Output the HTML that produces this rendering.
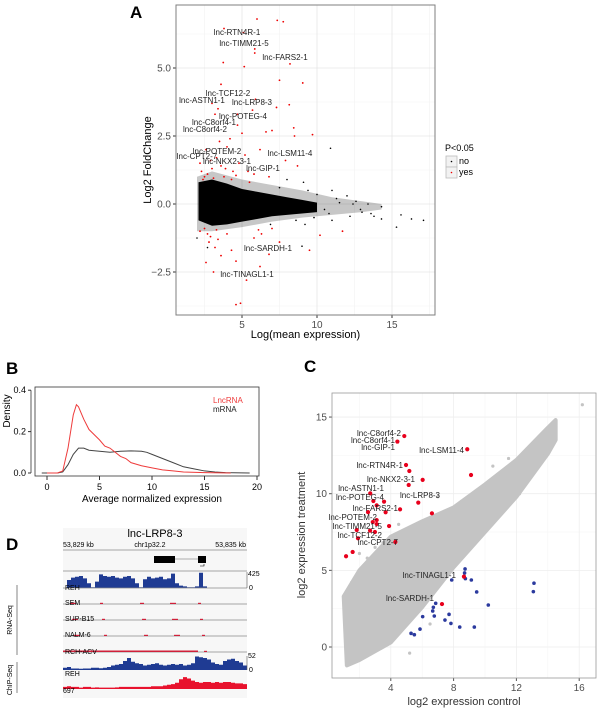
<!DOCTYPE html>
<html><head><meta charset="utf-8"><style>
html,body{margin:0;padding:0;background:#fff}
svg{display:block;font-family:"Liberation Sans",sans-serif}
</style></head><body>
<svg id="fig" width="600" height="716" viewBox="0 0 600 716" xmlns="http://www.w3.org/2000/svg">
<text x="130" y="18" font-size="17" font-weight="bold">A</text>
<text x="6" y="374" font-size="17" font-weight="bold">B</text>
<text x="304" y="372" font-size="17" font-weight="bold">C</text>
<text x="6" y="550" font-size="17" font-weight="bold">D</text>
<g id="A"></g><g id="B"></g><g id="C"></g><g id="D"></g>
</svg>
<script>
// ===== Panel A data =====
const aRedX=[6.0,7.35,7.75,3.8,5.1,5.85,5.85,3.75,5.15,8.2,3.6,7.5,9.05,5.9,8.15,7.3,3.0,3.4,4.7,5.7,3.2,4.7,8.45,8.5,9.7,7.0,6.6,5.0,4.2,3.5,2.6,6.2,7.9,8.7,5.4,4.8,3.0,2.7,3.8,6.8,2.4,4.3,5.5,2.2,3.3,5.2,4.0,9.5,10.2,11.7,6.8,4.3,3.2,2.8,2.6,4.6,6.2,3.1,5.3,4.6,4.9,2.9,5.8,7.5,3.6,2.5,4.0,6.3,7.0,3.3,2.3,2.9,3.6,4.4,2.5,3.1,3.9,4.6,5.8,6.1,2.2,2.7,3.4];
const aRedY=[6.8,6.75,6.7,6.45,6.3,5.7,5.55,5.2,5.05,5.15,4.4,4.55,4.45,3.85,3.65,3.55,3.7,3.5,3.3,3.45,3.3,2.9,2.8,2.5,2.55,2.7,2.65,2.6,2.4,2.3,2.0,2.0,1.6,1.4,1.2,1.5,1.3,1.1,1.0,1.0,0.9,0.9,0.8,1.5,1.7,1.8,2.1,-1.7,-1.15,-1.0,-1.85,-1.7,-1.6,-1.4,-2.15,-2.1,-2.3,-2.5,-2.8,-3.7,-3.65,-1.2,-1.25,-1.4,-1.9,-0.9,-1.1,-1.1,-0.9,-0.95,1.2,1.6,1.4,1.2,1.0,0.95,1.3,1.05,1.1,-0.95,-1.0,-1.1,-1.3];
const aBlkX=[10.9,8.0,9.1,9.4,11.0,12.6,13.4,14.3,15.6,16.3,17.1,15.3,14.3,13.0,12.2,11.0,9.0,2.0,2.7,9.2,12.0,10.5,13.8,11.5,10.0,11.3,12.9,7.5,8.6,9.8,6.9,10.8,12.4,13.6];
const aBlkY=[2.05,0.9,0.8,0.5,0.5,0.1,0.0,-0.1,-0.4,-0.55,-0.6,-0.85,-0.55,-0.3,-0.45,-0.6,-1.55,-1.25,-1.6,-0.75,0.3,-0.2,-0.45,0.05,0.35,0.2,-0.2,0.6,-0.6,-0.5,-0.75,-0.35,0.0,-0.35];
const aCoreX=[2.1,3,4,5,6,7,8,9,10];
const aCoreUp=[0.8,0.9,0.75,0.55,0.45,0.35,0.25,0.15,0.05];
const aCoreLo=[-0.6,-0.8,-0.75,-0.65,-0.55,-0.45,-0.4,-0.35,-0.3];
const aFringeX=[2,3,5,7,9,11,13,14.3];
const aFringeUp=[1.0,1.2,0.9,0.7,0.5,0.25,0.1,0];
const aFringeLo=[-1.0,-1.0,-0.85,-0.65,-0.5,-0.4,-0.3,-0.2];
const aXTicks=[5,10,15];
const aYTicks=[-2.5,0,2.5,5];
const aYTickLabels=["\u22122.5","0.0","2.5","5.0"];
// ===== Panel B data =====
const bLncX=[0,1,1.5,2,2.5,2.8,3,3.5,4,5,5.5,6,7,7.5,8,9,10,11,12,13,15,17.5];
const bLncY=[0,0,0.01,0.12,0.28,0.33,0.32,0.26,0.21,0.16,0.13,0.12,0.08,0.07,0.05,0.035,0.025,0.015,0.01,0.005,0.002,0];
const bMrnaX=[-0.5,1,1.5,2,2.5,3,3.5,4,5,6,7,8,9,9.5,10,11,12,13,14,15,16,17,19.3];
const bMrnaY=[0,0,0.005,0.04,0.09,0.12,0.12,0.11,0.105,0.1,0.105,0.107,0.105,0.1,0.09,0.07,0.05,0.03,0.02,0.01,0.005,0.002,0];
const bXTicks=[0,5,10,15,20];
const bYTicks=[0,0.2,0.4];
const bYTickLabels=["0.0","0.2","0.4"];
// ===== Panel C data =====
const cBandX=[1,2,4,6,8,10,12,14,14.5,14.5,14,12,10,8,6,4,2,1.2];
const cBandY=[3.3,5.0,7.2,8.2,9.1,10.6,12.2,14.3,14.8,13.5,12.6,9.8,7.5,5.2,2.6,0.3,-0.85,-1.2];
const cGreyX=[16.2,14.5,14.5,14.2,13.8,12.2,10.8,9.5,12.0,5.2,6.5,2.0,3.5,8.5,13.0,11.5,4.5,3.0,7.0,10.5,1.5,2.5];
const cGreyY=[15.8,14.8,14.2,13.1,12.5,10.0,10.4,8.2,11.5,-0.4,1.5,6.1,6.8,9.5,13.2,12.3,8.0,6.5,9.8,11.8,4.2,5.8];
const cRedX=[4.86,4.42,8.87,4.97,5.18,6.03,9.11,5.14,2.69,5.75,4.59,3.57,2.89,3.1,3.67,2.55,6.62,3.1,2.85,3.1,3.89,2.68,2.99,1.83,1.91,4.29,1.57,1.15,8.66,7.26];
const cRedY=[13.76,13.4,12.9,11.87,11.48,10.9,11.22,10.57,10.02,9.42,8.98,9.48,9.52,9.24,8.79,8.8,8.72,8.28,8.15,8.02,7.89,7.59,7.5,7.63,7.09,6.85,6.2,5.92,4.59,2.8];
const cBlueX=[8.73,8.7,7.88,8.75,9.13,9.47,13.12,13.08,10.21,6.86,6.71,6.67,6.77,6.03,7.71,7.45,7.83,8.39,9.32,5.86,5.29,5.5];
const cBlueY=[5.09,4.83,4.37,4.46,4.37,3.59,4.16,3.61,2.74,2.85,2.59,2.35,2.02,1.98,2.13,1.76,1.54,1.3,1.3,1.17,0.89,0.8];
const cXTicks=[4,8,12,16];
const cYTicks=[0,5,10,15];
// ===== Panel D data =====
const dRnaReh=[0,0.5,0.65,0.7,0.75,0.6,0.3,0.05,0.4,0.85,0.75,0.7,0.75,0.65,0.6,0.7,0.75,0.6,0.3,0.05,0.55,0.7,0.6,0.65,0.7,0.55,0.6,0.9,0.3,0.15,0.1,0.05,0.05,0.1,0.95,0.1,0,0,0,0,0,0,0,0,0,0];
const dChipReh=[0.15,0.2,0.1,0.1,0.08,0.1,0.1,0.15,0.15,0.12,0.15,0.2,0.3,0.35,0.4,0.6,0.8,0.55,0.45,0.4,0.3,0.35,0.4,0.45,0.35,0.3,0.35,0.4,0.35,0.4,0.3,0.35,0.45,0.9,0.85,0.8,0.7,0.5,0.4,0.35,0.6,0.7,0.75,0.6,0.5,0.3];
const dChip697=[0.15,0.2,0.15,0.15,0.1,0.15,0.15,0.1,0.12,0.1,0.1,0.1,0.1,0.12,0.15,0.15,0.15,0.15,0.15,0.15,0.15,0.15,0.2,0.2,0.2,0.25,0.3,0.35,0.45,0.7,0.85,0.75,0.6,0.5,0.45,0.5,0.5,0.45,0.5,0.45,0.5,0.5,0.45,0.4,0.4,0.35];

const NS="http://www.w3.org/2000/svg";
function el(tag,parent,attrs){const e=document.createElementNS(NS,tag);for(const k in attrs)e.setAttribute(k,attrs[k]);parent.appendChild(e);return e;}
function txt(parent,x,y,s,size,fill,anchor,name){const t=el('text',parent,{x:x,y:y,'font-size':size,fill:fill,'text-anchor':anchor||'start'});t.textContent=s;


return t;}

// ===== Panel A =====
(function(){
const g=document.getElementById('A');
const L=176,R=435,T=5,B=315;
const ax=x=>242+(x-5)*15, ay=y=>204-y*27.2;
const bg=el('rect',g,{x:L,y:T,width:R-L,height:B-T,fill:'#fff'});


[2.5,7.5,12.5,17.5].forEach(v=>{const l=el('line',g,{x1:ax(v),x2:ax(v),y1:T,y2:B,stroke:'#f2f2f2','stroke-width':0.6});

});
[-3.75,-1.25,1.25,3.75,6.25].forEach(v=>{const l=el('line',g,{x1:L,x2:R,y1:ay(v),y2:ay(v),stroke:'#f2f2f2','stroke-width':0.6});

});
aXTicks.forEach(v=>{const l=el('line',g,{x1:ax(v),x2:ax(v),y1:T,y2:B,stroke:'#e6e6e6','stroke-width':0.8});


el('line',g,{x1:ax(v),x2:ax(v),y1:B,y2:B+3,stroke:'#333'});
txt(g,ax(v),B+13,String(v),10,'#4d4d4d','middle','a-x-tick-label');});
aYTicks.forEach((v,i)=>{const l=el('line',g,{x1:L,x2:R,y1:ay(v),y2:ay(v),stroke:'#e6e6e6','stroke-width':0.8});


el('line',g,{x1:L-3,x2:L,y1:ay(v),y2:ay(v),stroke:'#333'});
txt(g,L-5,ay(v)+3.5,aYTickLabels[i],10,'#4d4d4d','end','a-y-tick-label');});
let fp=aFringeX.map((x,i)=>ax(x)+','+ay(aFringeUp[i])).concat(aFringeX.map((x,i)=>i).reverse().map(i=>ax(aFringeX[i])+','+ay(aFringeLo[i])));
const fr=el('polygon',g,{points:fp.join(' '),fill:'#000',opacity:0.22});


let cp=aCoreX.map((x,i)=>ax(x)+','+ay(aCoreUp[i])).concat(aCoreX.map((x,i)=>i).reverse().map(i=>ax(aCoreX[i])+','+ay(aCoreLo[i])));
const co=el('polygon',g,{points:cp.join(' '),fill:'#000'});


aBlkX.forEach((x,i)=>{const c=el('circle',g,{cx:ax(x),cy:ay(aBlkY[i]),r:0.8,fill:'#000'});

});
aRedX.forEach((x,i)=>{const c=el('circle',g,{cx:ax(x),cy:ay(aRedY[i]),r:0.9,fill:'#e00'});

});
const labs=[["lnc-RTN4R-1",237,35],["lnc-TIMM21-5",244,46],["lnc-FARS2-1",285,60],["lnc-TCF12-2",228,96],["lnc-ASTN1-1",202,103],["lnc-LRP8-3",252,105],["lnc-POTEG-4",243,119],["lnc-C8orf4-1",214,125],["lnc-C8orf4-2",205,132],["lnc-POTEM-2",217,154],["lnc-CPT2-7",197,159],["lnc-NKX2-3-1",227,164],["lnc-GIP-1",263,171],["lnc-LSM11-4",290,156],["lnc-SARDH-1",268,251],["lnc-TINAGL1-1",247,277]];
labs.forEach(l=>txt(g,l[1],l[2],l[0],8,'#222','middle','a-gene-label'));
const fr2=el('rect',g,{x:L,y:T,width:R-L,height:B-T,fill:'none',stroke:'#7f7f7f','stroke-width':1});


txt(g,(L+R)/2,338,'Log(mean expression)',11,'#000','middle','a-x-axis-title');
const yt=txt(g,0,0,'Log2 FoldChange',11,'#000','middle','a-y-axis-title');yt.setAttribute('transform','translate(151,160) rotate(-90)');
txt(g,445,151,'P<0.05',9,'#000','start','a-legend-title');
[['no','#000',161],['yes','#e00',172]].forEach(d=>{const r=el('rect',g,{x:446,y:d[2]-5,width:11,height:11,fill:'#f2f2f2',stroke:'#bbb','stroke-width':0.8});


el('circle',g,{cx:451.5,cy:d[2]+0.5,r:0.8,fill:d[1]});
txt(g,459,d[2]+3,d[0],9,'#000','start','a-legend-entry');});
})();

// ===== Panel B =====
(function(){
const g=document.getElementById('B');
const bx=x=>47+x*10.5, by=y=>473-y*207;
const fr=el('rect',g,{x:35,y:387,width:224,height:89,fill:'none',stroke:'#333','stroke-width':0.8});


const yax=el('line',g,{x1:31,x2:31,y1:by(0),y2:by(0.4),stroke:'#333','stroke-width':0.8});


bXTicks.forEach(v=>{el('line',g,{x1:bx(v),x2:bx(v),y1:476,y2:480,stroke:'#333'});
txt(g,bx(v),490,String(v),9,'#000','middle','b-x-tick-label');});
bYTicks.forEach((v,i)=>{el('line',g,{x1:28,x2:31,y1:by(v),y2:by(v),stroke:'#333'});
txt(g,26,by(v)+3,bYTickLabels[i],9,'#000','end','b-y-tick-label');});
const mr=el('path',g,{d:'M'+bMrnaX.map((x,i)=>bx(x)+','+by(bMrnaY[i])).join('L'),fill:'none',stroke:'#444','stroke-width':1});


const ln=el('path',g,{d:'M'+bLncX.map((x,i)=>bx(x)+','+by(bLncY[i])).join('L'),fill:'none',stroke:'#ee3b3b','stroke-width':1});


txt(g,213,403,'LncRNA',8,'#ee3b3b','start','b-legend-lncrna');
txt(g,213,412,'mRNA',8,'#222','start','b-legend-mrna');
txt(g,152,502,'Average normalized expression',10,'#000','middle','b-x-axis-title');
const yt=txt(g,0,0,'Density',10,'#000','middle','b-y-axis-title');yt.setAttribute('transform','translate(10,411) rotate(-90)');
})();

// ===== Panel C =====
(function(){
const g=document.getElementById('C');
const L=332,R=596,T=393,B=678;
const cx=x=>328+x*15.7, cy=y=>647-y*15.33;
[2,6,10,14].forEach(v=>{const l=el('line',g,{x1:cx(v),x2:cx(v),y1:T,y2:B,stroke:'#f6f6f6','stroke-width':0.6});

});
[2.5,7.5,12.5].forEach(v=>{const l=el('line',g,{x1:L,x2:R,y1:cy(v),y2:cy(v),stroke:'#f6f6f6','stroke-width':0.6});

});
cXTicks.forEach(v=>{const l=el('line',g,{x1:cx(v),x2:cx(v),y1:T,y2:B,stroke:'#eeeeee','stroke-width':0.8});


el('line',g,{x1:cx(v),x2:cx(v),y1:B,y2:B+3,stroke:'#555'});
txt(g,cx(v),B+13,String(v),10,'#4d4d4d','middle','c-x-tick-label');});
cYTicks.forEach(v=>{const l=el('line',g,{x1:L,x2:R,y1:cy(v),y2:cy(v),stroke:'#eeeeee','stroke-width':0.8});


el('line',g,{x1:L-3,x2:L,y1:cy(v),y2:cy(v),stroke:'#555'});
txt(g,L-5,cy(v)+3.5,String(v),10,'#4d4d4d','end','c-y-tick-label');});
const band=el('polygon',g,{points:cBandX.map((x,i)=>cx(x)+','+cy(cBandY[i])).join(' '),fill:'#c4c4c4',stroke:'#c4c4c4','stroke-width':4,'stroke-linejoin':'round'});


cGreyX.forEach((x,i)=>{const c=el('circle',g,{cx:cx(x),cy:cy(cGreyY[i]),r:1.6,fill:'#c4c4c4'});

});
cBlueX.forEach((x,i)=>{const c=el('circle',g,{cx:cx(x),cy:cy(cBlueY[i]),r:1.8,fill:'#2b3a9e'});

});
cRedX.forEach((x,i)=>{const c=el('circle',g,{cx:cx(x),cy:cy(cRedY[i]),r:2.1,fill:'#e8001c'});

});
const labs=[["lnc-C8orf4-2",401,436],["lnc-C8orf4-1",395,443],["lnc-GIP-1",395,450],["lnc-LSM11-4",464,453],["lnc-RTN4R-1",403,468],["lnc-NKX2-3-1",415,482],["lnc-ASTN1-1",384,491],["lnc-LRP8-3",440,498],["lnc-POTEG-4",384,500],["lnc-FARS2-1",398,511],["lnc-POTEM-2",377,520],["lnc-TIMM21-5",382,529],["lnc-TCF12-2",382,538],["lnc-CPT2-7",398,545],["lnc-TINAGL1-1",456,578],["lnc-SARDH-1",434,601]];
labs.forEach(l=>txt(g,l[1],l[2],l[0],8,'#222','end','c-gene-label'));
const fr=el('rect',g,{x:L,y:T,width:R-L,height:B-T,fill:'none',stroke:'#999','stroke-width':0.8});


txt(g,464,705,'log2 expression control',11,'#333','middle','c-x-axis-title');
const yt=txt(g,0,0,'log2 expression treatment',11,'#333','middle','c-y-axis-title');yt.setAttribute('transform','translate(305,535) rotate(-90)');
})();

// ===== Panel D =====
(function(){
const g=document.getElementById('D');
const X0=63,X1=247,BW=4;
const bgr=el('rect',g,{x:X0,y:528,width:X1-X0,height:170,fill:'#f7f7f7'});


txt(g,155,537,'lnc-LRP8-3',11,'#000','middle','d-title');
txt(g,63,547,'53,829 kb',7,'#000','start','d-ruler-start');
txt(g,150,547,'chr1p32.2',7,'#000','middle','d-chromosome-band');
txt(g,246,547,'53,835 kb',7,'#000','end','d-ruler-end');
[550,571].forEach(y=>el('line',g,{x1:X0,x2:X1,y1:y,y2:y,stroke:'#888','stroke-width':0.8}));
const gene=el('g',g,{});


el('line',gene,{x1:175,x2:198,y1:559,y2:559,stroke:'#666','stroke-width':0.6});
el('rect',gene,{x:154,y:556,width:21,height:7,fill:'#000'});
el('rect',gene,{x:198,y:556,width:8,height:7,fill:'#000'});
el('path',gene,{d:'M204,564 L204,566 L200,566',fill:'none',stroke:'#000','stroke-width':0.6});
function track(vals,base,h,color,name){
 let d='M'+X0+','+base;
 vals.forEach((v,i)=>{const x=X0+i*BW;d+=' L'+x+','+(base-v*h)+' L'+(x+BW)+','+(base-v*h);});
 d+=' L'+(X0+vals.length*BW)+','+base+' Z';
 const p=el('path',g,{d:d,fill:color});
 
 
}
track(dRnaReh,588,16,'#1f3b93','d-rnaseq-reh-track');
el('line',g,{x1:X0,x2:X1,y1:588,y2:588,stroke:'#888','stroke-width':0.8});
el('line',g,{x1:247,x2:247,y1:572,y2:588,stroke:'#555','stroke-width':0.6});
txt(g,248,576,'425',7,'#000','start','d-reh-scale-max');
txt(g,249,590,'0',7,'#000','start','d-reh-scale-min');
[604,620,636,652].forEach((y,k)=>{el('line',g,{x1:X0,x2:X1,y1:y,y2:y,stroke:'#888','stroke-width':0.8});
 [[70,6],[100,3],[140,4],[170,6],[198,3]].forEach(s=>{const r=el('rect',g,{x:s[0]+k*2,y:y-1.2,width:s[1],height:1.2,fill:'#d0203a'});
 
 });});
el('rect',g,{x:X0,y:650.5,width:135,height:1.5,fill:'#d0203a'});
[['REH',590],['SEM',605],['SUP-B15',621],['NALM-6',637],['RCH-ACV',654]].forEach(l=>txt(g,65,l[1],l[0],7,'#000','start','d-rnaseq-sample-label'));
track(dChipReh,670,15,'#1f3b93','d-chipseq-reh-track');
el('line',g,{x1:247,x2:247,y1:656,y2:670,stroke:'#555','stroke-width':0.6});
txt(g,248,658,'52',7,'#000','start','d-chip-scale-max');
txt(g,249,672,'0',7,'#000','start','d-chip-scale-min');
track(dChip697,689,14,'#e8122d','d-chipseq-697-track');
txt(g,65,676,'REH',7,'#000','start','d-chipseq-sample-label');
txt(g,63,693,'697',7,'#000','start','d-chipseq-sample-label');
el('line',g,{x1:17,x2:17,y1:585,y2:655,stroke:'#666','stroke-width':0.8});
el('line',g,{x1:17,x2:17,y1:662,y2:693,stroke:'#666','stroke-width':0.8});
const r1=txt(g,0,0,'RNA-Seq',7,'#000','middle','d-rnaseq-group-label');r1.setAttribute('transform','translate(12,620) rotate(-90)');
const r2=txt(g,0,0,'ChIP-Seq',7,'#000','middle','d-chipseq-group-label');r2.setAttribute('transform','translate(12,680) rotate(-90)');
})();
</script>
</body></html>
